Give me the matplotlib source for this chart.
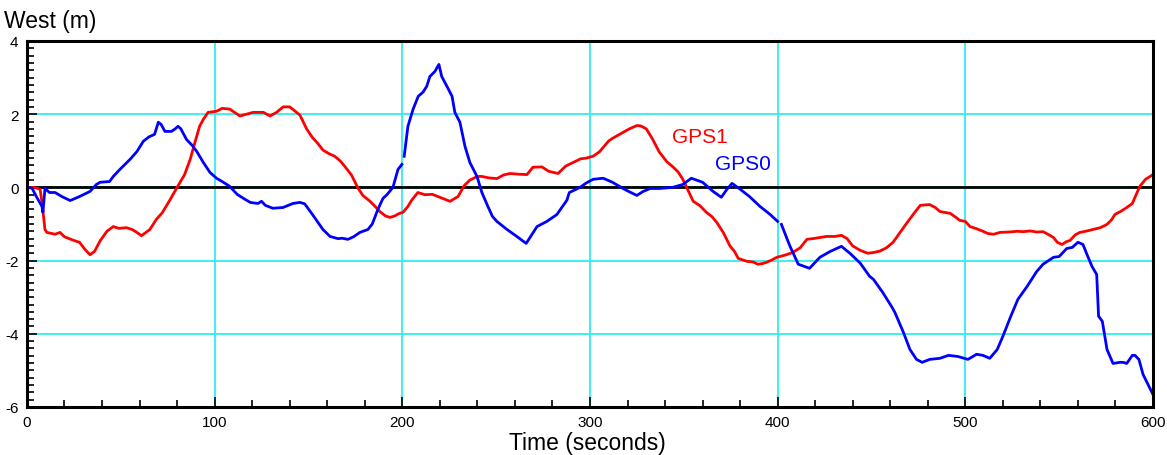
import numpy as np
import matplotlib
matplotlib.use('Agg')
import matplotlib.pyplot as plt
from matplotlib.ticker import MultipleLocator

plt.rcParams['font.family'] = ['Liberation Sans', 'DejaVu Sans']
plt.rcParams['axes.unicode_minus'] = False

nan = np.nan

# GPS1 (red)
time_gps1 = [0, 4, 7, 8, 9.6, 10.6, 15, 17.6, 20, 25, 28, 31, 33.6, 36, 39, 42.6, 46, 49, 53, 56,
             58.6, 61, 65.5, 69, 72, 76, 80, 84, 87, 89.5, 92, 94, 96.5, 101, 104, 108, 113.5, 117,
             120.5, 126, 129.5, 133, 136.5, 140, 142, 145.5, 149, 152, 155, 157.7, 161, 164, 167,
             170.5, 173, 176.4, 179, 182.8, 185.5, 188, 191, 193.4, 196, 198, 200.4, 203, 205,
             208.3, 212, 216, 220, 225.4, 229.7, 233, 236, 240, 242.4, 246, 250.4, 254, 257.4,
             262, 266.4, 269.6, 274.4, 278, 283, 287, 291, 295, 298, 301.6, 305, 307, 310, 312,
             317.6, 321, 325, 327, 330, 333, 337, 341, 344, 347, 349.5, 352, 355, 358.6, 362,
             365, 367.6, 371, 374.6, 377, 379, 383.6, 387, 389.5, 392, 394, 397, 399.6, 404, 408,
             412, 415.6, 420, 426, 430.5, 434, 437, 440, 444, 448, 451, 454.5, 458, 461.5, 465,
             469, 472.5, 476, 481, 484, 486.5, 492, 495, 497, 500, 502.5, 506, 509.4, 512, 515,
             518.5, 523, 527.5, 531, 534.5, 538, 541.4, 544, 547, 549, 551.5, 554, 555.8, 558.5,
             561, 564, 568, 572, 575.5, 578, 579.7, 583, 586, 589, 591, 593, 596, 600]
west_gps1 = [0, 0, -0.05, -0.41, -1.15, -1.23, -1.28, -1.23, -1.35, -1.45, -1.5, -1.7, -1.84, -1.75,
             -1.46, -1.2, -1.07, -1.12, -1.1, -1.15, -1.23, -1.32, -1.15, -0.87, -0.7, -0.36, 0,
             0.35, 0.77, 1.23, 1.67, 1.86, 2.05, 2.08, 2.16, 2.14, 1.95, 2.0, 2.05, 2.05, 1.95,
             2.05, 2.2, 2.2, 2.12, 1.97, 1.6, 1.37, 1.2, 1.02, 0.92, 0.85, 0.72, 0.5, 0.33, -0.02,
             -0.22, -0.38, -0.52, -0.66, -0.78, -0.82, -0.78, -0.72, -0.68, -0.52, -0.35, -0.14,
             -0.2, -0.19, -0.27, -0.38, -0.25, 0.05, 0.2, 0.3, 0.3, 0.26, 0.24, 0.34, 0.38, 0.36,
             0.35, 0.55, 0.56, 0.44, 0.38, 0.58, 0.68, 0.78, 0.8, 0.85, 0.97, 1.09, 1.27, 1.34,
             1.5, 1.6, 1.69, 1.68, 1.6, 1.35, 0.96, 0.7, 0.57, 0.42, 0.22, -0.05, -0.38, -0.5,
             -0.68, -0.8, -0.96, -1.23, -1.6, -1.75, -1.94, -2.02, -2.04, -2.1, -2.08, -2.05,
             -1.98, -1.91, -1.85, -1.78, -1.65, -1.42, -1.39, -1.34, -1.34, -1.31, -1.4, -1.6,
             -1.72, -1.8, -1.78, -1.74, -1.65, -1.5, -1.25, -0.96, -0.72, -0.49, -0.47, -0.55,
             -0.66, -0.71, -0.82, -0.9, -0.93, -1.07, -1.13, -1.2, -1.26, -1.28, -1.23, -1.22,
             -1.2, -1.21, -1.19, -1.22, -1.21, -1.28, -1.37, -1.5, -1.56, -1.48, -1.45, -1.3,
             -1.23, -1.2, -1.15, -1.1, -1.01, -0.88, -0.74, -0.65, -0.55, -0.44, -0.2, 0.03,
             0.22, 0.35]

# GPS0 (blue), nan = data gap
time_gps0 = [0, 2.7, 5, 8, 8.5, 9.6, 12, 15, 18.6, 23, 28, 33.6, 37, 39, 44, 46, 49.5, 55, 58.6, 62,
             65, 68, 70, 71.5, 73.5, 77, 79, 80.5, 82, 85, 88, 90.5, 94, 97.5, 101, 104, 108, 112,
             116, 119, 123, 125, 127, 131, 136.4, 141.7, 145.5, 148, 152.4, 157.7, 161.5, 165.7,
             168, 171, 174, 177.4, 181.7, 184, 187, 189.7, 191.8, 195, 197.7, 199.8, 200.4, 201,
             203, 205.7, 208.5, 211, 213, 214.7, 217.4, 219.5, 221, 223.8, 226.5, 228, 230.7,
             233.4, 236, 239.8, 242.4, 245.6, 248, 250.4, 255.8, 261, 266, 268, 271.8, 277,
             282.4, 284, 287.7, 289, 294.7, 298, 301.6, 307, 312, 317.6, 321, 325, 328, 332, 337,
             344, 349.5, 354, 360, 365.6, 370, 373, 375.7, 380, 385, 390.6, 396, 400, 401, 402,
             406.5, 411, 417, 422.5, 428, 434, 438.5, 444, 449, 451, 456, 461, 462.5, 467, 470.5,
             474, 477, 481, 486.5, 491, 496, 501.4, 506, 509.4, 513, 517, 520, 524, 528, 533, 538,
             541.4, 547, 550, 554, 557, 560, 562.7, 564.8, 567.5, 570, 571, 573, 575.5, 578.7,
             582.4, 584, 586, 589, 590.4, 592.5, 594.7, 600]
west_gps0 = [0, -0.02, -0.25, -0.52, -0.68, -0.03, -0.14, -0.14, -0.25, -0.36, -0.25, -0.11, 0.08,
             0.14, 0.16, 0.3, 0.49, 0.77, 0.98, 1.26, 1.38, 1.45, 1.78, 1.72, 1.53, 1.53, 1.6, 1.67,
             1.6, 1.31, 1.15, 0.98, 0.68, 0.41, 0.25, 0.16, 0.03, -0.19, -0.32, -0.41, -0.44, -0.38,
             -0.49, -0.57, -0.55, -0.44, -0.41, -0.45, -0.76, -1.15, -1.34, -1.4, -1.39, -1.42,
             -1.35, -1.23, -1.15, -1.0, -0.6, -0.3, -0.2, 0.0, 0.49, 0.63, nan, 0.85, 1.67, 2.13,
             2.49, 2.6, 2.76, 3.03, 3.17, 3.36, 3.03, 2.76, 2.49, 2.05, 1.78, 1.12, 0.68, 0.3,
             -0.14, -0.52, -0.79, -0.93, -1.15, -1.34, -1.53, -1.37, -1.07, -0.93, -0.74, -0.62,
             -0.35, -0.14, 0.0, 0.12, 0.22, 0.25, 0.14, -0.03, -0.12, -0.22, -0.12, -0.03, -0.03,
             0.0, 0.08, 0.25, 0.14, -0.11, -0.27, -0.05, 0.11, -0.05, -0.25, -0.52, -0.74, -0.93,
             nan, -1.01, -1.6, -2.1, -2.21, -1.91, -1.75, -1.61, -1.8, -2.07, -2.43, -2.51, -2.87,
             -3.28, -3.42, -3.96, -4.43, -4.7, -4.78, -4.7, -4.67, -4.59, -4.62, -4.7, -4.56,
             -4.59, -4.67, -4.43, -4.07, -3.55, -3.06, -2.7, -2.3, -2.1, -1.91, -1.89, -1.67,
             -1.64, -1.5, -1.56, -1.83, -2.16, -2.38, -3.52, -3.66, -4.43, -4.81, -4.78, -4.78,
             -4.81, -4.59, -4.59, -4.7, -5.11, -5.66]

fig = plt.figure(figsize=(11.67, 4.56), dpi=100)
ax = fig.add_axes([0.0231, 0.1053, 0.9649, 0.8026])
ax.set_axisbelow(True)

ax.set_xlim(0, 600)
ax.set_ylim(-6, 4)
ax.xaxis.set_major_locator(MultipleLocator(100))
ax.xaxis.set_minor_locator(MultipleLocator(20))
ax.yaxis.set_major_locator(MultipleLocator(2))
ax.yaxis.set_minor_locator(MultipleLocator(0.2))
ax.grid(True, which='major', color='#33eeee', lw=1.3)
ax.axhline(0, color='black', lw=2, zorder=1.5)

ax.tick_params(which='both', direction='in', top=False, right=False, labelsize=11,
               width=1.2, colors='black')
ax.tick_params(which='major', length=7, pad=6)
ax.tick_params(which='minor', length=5)
for s in ax.spines.values():
    s.set_linewidth(2.2)
    s.set_zorder(5)

ax.plot(time_gps1, west_gps1, color='#ff0000', lw=2, zorder=3)
ax.plot(time_gps0, west_gps0, color='#0000ff', lw=2, zorder=3)

ax.text(343.5, 1.39, 'GPS1', color='#ff0000', fontsize=15, va='center', ha='left')
ax.text(366.5, 0.66, 'GPS0', color='#0000ff', fontsize=15, va='center', ha='left')

fig.text(0.003, 0.952, 'West (m)', fontsize=16.5, va='center', ha='left')
fig.text(0.503, 0.028, 'Time (seconds)', fontsize=16.5, va='center', ha='center')

fig.savefig('out.png', dpi=100)
